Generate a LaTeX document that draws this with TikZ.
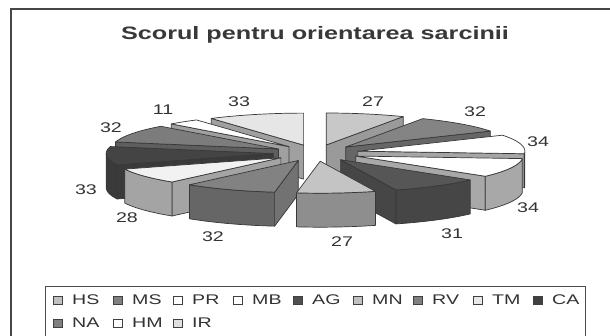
\documentclass[tikz,border=0pt]{standalone}
\usepackage{fontspec}
\setmainfont{Liberation Sans}
\newfontfamily\lblfont[FakeStretch=1.4]{Liberation Sans}
\usetikzlibrary{calc}
\definecolor{tHS}{HTML}{C8C8C8}\definecolor{sHS}{HTML}{9A9A9A}
\definecolor{tMS}{HTML}{848484}\definecolor{sMS}{HTML}{666666}
\definecolor{tPR}{HTML}{FFFFFF}\definecolor{sPR}{HTML}{A6A6A6}
\definecolor{tMB}{HTML}{FFFFFF}\definecolor{sMB}{HTML}{A8A8A8}
\definecolor{tAG}{HTML}{565656}\definecolor{sAG}{HTML}{464646}
\definecolor{tMN}{HTML}{C4C4C4}\definecolor{sMN}{HTML}{8E8E8E}
\definecolor{tRV}{HTML}{828282}\definecolor{sRV}{HTML}{666666}\definecolor{rRV}{HTML}{727272}
\definecolor{tTM}{HTML}{F2F2F2}\definecolor{sTM}{HTML}{A4A4A4}
\definecolor{tCA}{HTML}{444444}\definecolor{sCA}{HTML}{3A3A3A}
\definecolor{tNA}{HTML}{7C7C7C}\definecolor{sNA}{HTML}{5E5E5E}
\definecolor{tHM}{HTML}{FFFFFF}\definecolor{sHM}{HTML}{A0A0A0}
\definecolor{tIR}{HTML}{E6E6E6}\definecolor{sIR}{HTML}{A0A0A0}
\definecolor{lHS}{HTML}{C0C0C0}\definecolor{lMS}{HTML}{808080}
\definecolor{lAG}{HTML}{505050}\definecolor{lTM}{HTML}{E8E8E8}
\definecolor{lCA}{HTML}{404040}\definecolor{lIR}{HTML}{E0E0E0}
\definecolor{inkc}{HTML}{333333}
\def\pcx{316}\def\pcy{153}\def\prx{167}\def\pry{32}\def\phh{34}\def\pex{0.257}
\newcommand\pieslice[5]{%
  \pgfmathsetmacro\pmid{(#1+#2)/2}%
  \pgfmathsetmacro\pox{\pcx+\pex*\prx*sin(\pmid)}%
  \pgfmathsetmacro\poy{\pcy-\pex*\pry*cos(\pmid)}%
  \pgfmathtruncatemacro\vone{sin(#1)<-0.001}%
  \pgfmathtruncatemacro\vtwo{sin(#2)>0.001}%
  \pgfmathsetmacro\psa{max(#1,90)}%
  \pgfmathsetmacro\psb{min(#2,270)}%
  \pgfmathtruncatemacro\vside{\psa<\psb}%
  \ifnum\vone=1
    \filldraw[piece, fill=#5] (\pox,\poy) -- ({\pox+\prx*sin(#1)},{\poy-\pry*cos(#1)})
      -- ({\pox+\prx*sin(#1)},{\poy-\pry*cos(#1)+\phh}) -- (\pox,{\poy+\phh}) -- cycle;
  \fi
  \ifnum\vtwo=1
    \filldraw[piece, fill=#5] (\pox,\poy) -- ({\pox+\prx*sin(#2)},{\poy-\pry*cos(#2)})
      -- ({\pox+\prx*sin(#2)},{\poy-\pry*cos(#2)+\phh}) -- (\pox,{\poy+\phh}) -- cycle;
  \fi
  \ifnum\vside=1
    \filldraw[piece, fill=#4] plot[domain=\psa:\psb, samples=30] ({\pox+\prx*sin(\x)},{\poy-\pry*cos(\x)})
      -- plot[domain=\psb:\psa, samples=30] ({\pox+\prx*sin(\x)},{\poy-\pry*cos(\x)+\phh}) -- cycle;
  \fi
  \filldraw[piece, fill=#3] (\pox,\poy) -- plot[domain=#1:#2, samples=30] ({\pox+\prx*sin(\x)},{\poy-\pry*cos(\x)}) -- cycle;
}
\tikzset{
  piece/.style={draw=black!78, line width=0.7pt, line join=round},
  lbl/.style={font=\lblfont\fontsize{14}{16}\selectfont, text=inkc, inner sep=0pt},
  legmark/.style={draw=black!75, line width=0.6pt, minimum width=9pt, minimum height=7.5pt, inner sep=0pt},
  legtext/.style={font=\lblfont\fontsize{14}{16}\selectfont, text=inkc, inner sep=0pt, anchor=base west}
}
\begin{document}
\begin{tikzpicture}[x=1pt,y=-1pt]
\useasboundingbox (0,0) rectangle (610,336);
\clip (0,0) rectangle (610,336);
\fill[white] (0,0) rectangle (610,336);
\draw[line width=1.5pt, draw=black!72] (11,9) rectangle (640,370);
\node[anchor=base, font=\lblfont\bfseries\fontsize{18}{20}\selectfont, text=black!78, inner sep=0pt] (title) at (315,40) {Scorul pentru orientarea sarcinii};
% pie slices, back to front
\pieslice{0}{27.458}{tHS}{sHS}{sHS}
\pieslice{326.441}{360}{tIR}{sIR}{sIR}
\pieslice{315.254}{326.441}{tHM}{sHM}{sHM}
\pieslice{27.458}{60}{tMS}{sMS}{sMS}
\pieslice{282.712}{315.254}{tNA}{sNA}{sNA}
\pieslice{60}{94.576}{tPR}{sPR}{sPR}
\pieslice{249.153}{282.712}{tCA}{sCA}{sCA}
\pieslice{94.576}{129.153}{tMB}{sMB}{sMB}
\pieslice{220.678}{249.153}{tTM}{sTM}{sTM}
\pieslice{129.153}{160.678}{tAG}{sAG}{sAG}
\pieslice{188.136}{220.678}{tRV}{sRV}{rRV}
\pieslice{160.678}{188.136}{tMN}{sMN}{sMN}
% data labels
\node[lbl] (vHS) at (373,102) {27};
\node[lbl] (vMS) at (475,112) {32};
\node[lbl] (vPR) at (538,142) {34};
\node[lbl] (vMB) at (528,208) {34};
\node[lbl] (vAG) at (452,234) {31};
\node[lbl] (vMN) at (342,242) {27};
\node[lbl] (vRV) at (213,237) {32};
\node[lbl] (vTM) at (127,218) {28};
\node[lbl] (vCA) at (86,190) {33};
\node[lbl] (vNA) at (111,128) {32};
\node[lbl] (vHM) at (163,110) {11};
\node[lbl] (vIR) at (239,102) {33};
% legend
\draw[line width=0.8pt, draw=black!70] (45,286) rectangle (585,360);
\foreach \nm/\col [count=\i from 0] in {HS/lHS, MS/lMS, PR/white, MB/white, AG/lAG, MN/lHS, RV/lMS, TM/lTM, CA/lCA} {
  \node[legmark, fill=\col] (m\nm) at ({57.5+60*\i},300.5) {};
  \node[legtext] (t\nm) at ({72+60*\i},305) {\nm};
}
\foreach \nm/\col [count=\i from 0] in {NA/lMS, HM/white, IR/lIR} {
  \node[legmark, fill=\col] (m\nm) at ({57.5+60*\i},323.5) {};
  \node[legtext] (t\nm) at ({72+60*\i},328) {\nm};
}
\end{tikzpicture}
\end{document}
